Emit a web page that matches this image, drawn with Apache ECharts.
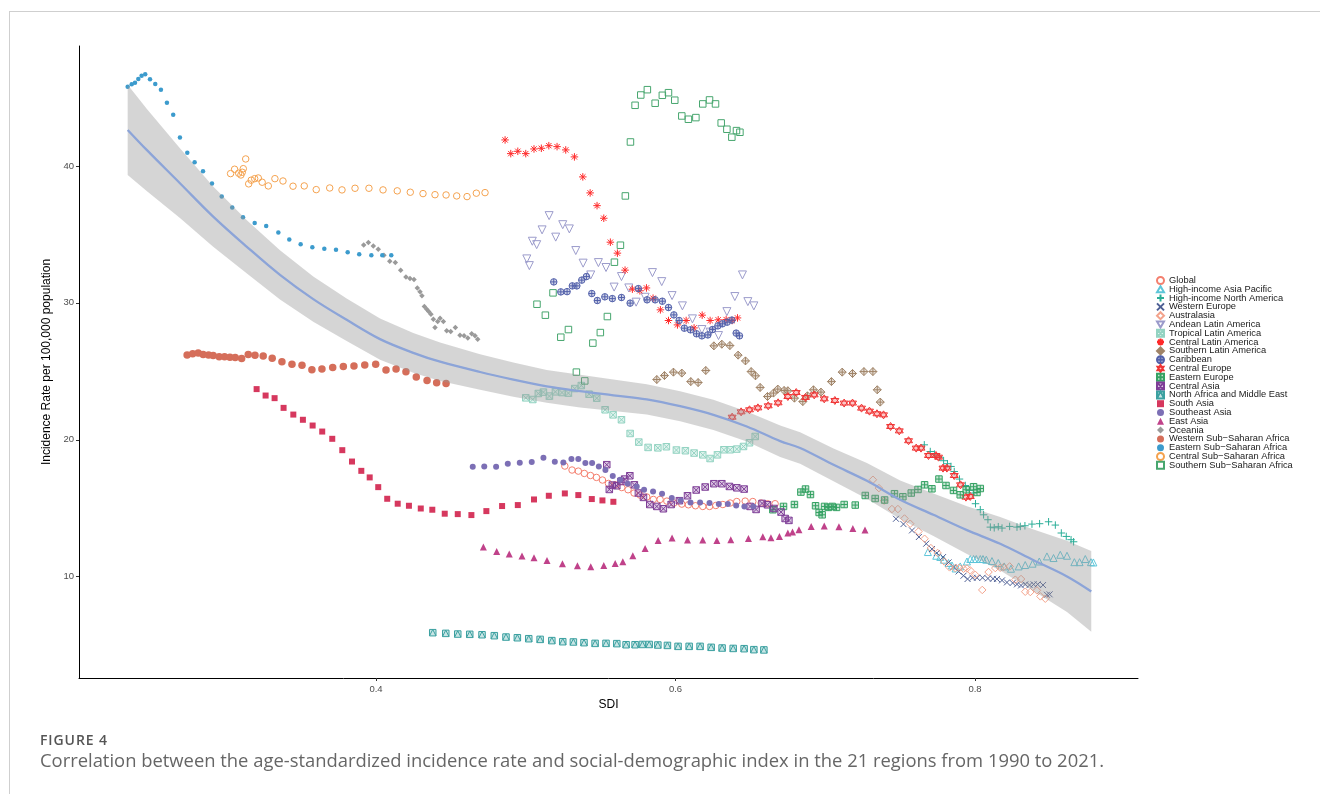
<!DOCTYPE html>
<html><head><meta charset="utf-8">
<script src="https://cdn.jsdelivr.net/npm/echarts@6/dist/echarts.min.js"></script>
<style>
html,body{margin:0;padding:0;background:#fff;width:1320px;height:794px;overflow:hidden;}
#card{position:absolute;left:9px;top:11px;width:1400px;height:900px;border-left:1px solid #cfcfcf;border-top:1px solid #cfcfcf;}
#chart{position:absolute;left:0;top:0;width:1320px;height:794px;}
#fig{position:absolute;left:40px;top:730px;font:600 14px 'Open Sans';color:#555;letter-spacing:0.9px;}
#cap{position:absolute;left:40px;top:747px;font:18.4px 'Open Sans';color:#666;white-space:nowrap;}
</style></head>
<body>
<div id="card"></div>
<div id="chart"></div>
<div id="fig">FIGURE 4</div>
<div id="cap">Correlation between the age-standardized incidence rate and social-demographic index in the 21 regions from 1990 to 2021.</div>
<script>
// ---------------- data ----------------
const sdiGlobal = [0.5261,0.5309,0.5351,0.5391,0.5432,0.5472,0.5512,0.5552,0.5597,0.5641,0.5683,0.5723,0.5764,0.5808,0.5852,0.5897,0.5942,0.5989,0.6042,0.6086,0.6133,0.6182,0.6227,0.6269,0.6316,0.6365,0.6409,0.6465,0.6516,0.6572,0.6614,0.6665];
const rateGlobal = [18.08,17.79,17.71,17.54,17.39,17.25,17.06,16.81,16.71,16.51,16.35,16.11,15.96,15.82,15.64,15.64,15.52,15.38,15.30,15.25,15.18,15.13,15.13,15.20,15.27,15.38,15.49,15.52,15.49,15.38,15.33,15.33];
const sdiHIAP = [0.7685,0.7741,0.7768,0.7792,0.7823,0.7846,0.7870,0.7901,0.7946,0.7968,0.7990,0.8008,0.8035,0.8053,0.8075,0.8113,0.8155,0.8195,0.8240,0.8291,0.8335,0.8384,0.8429,0.8480,0.8524,0.8569,0.8614,0.8663,0.8698,0.8736,0.8774,0.8790];
const rateHIAP = [11.80,11.53,11.44,11.24,11.00,10.82,10.60,10.75,11.11,11.29,11.29,11.29,11.29,11.29,11.24,11.14,11.00,10.75,10.58,10.75,10.85,10.95,11.11,11.48,11.36,11.60,11.53,11.06,11.06,11.29,11.06,11.04];
const sdiHINA = [0.7661,0.7701,0.7729,0.7763,0.7790,0.7816,0.7839,0.7861,0.7896,0.7935,0.7961,0.7988,0.8003,0.8035,0.8057,0.8086,0.8102,0.8128,0.8155,0.8180,0.8231,0.8280,0.8302,0.8333,0.8380,0.8431,0.8491,0.8536,0.8576,0.8609,0.8641,0.8658];
const rateHINA = [19.63,19.14,18.95,18.73,18.47,18.25,18.05,17.68,17.13,16.66,16.30,16.11,15.33,14.89,14.52,14.16,13.62,13.57,13.65,13.55,13.67,13.62,13.67,13.72,13.84,13.87,14.01,13.77,13.19,12.94,12.70,12.55];
const sdiWE = [0.7472,0.7522,0.7579,0.7625,0.7674,0.7712,0.7745,0.7786,0.7823,0.7856,0.7890,0.7923,0.7950,0.7983,0.8013,0.8050,0.8086,0.8120,0.8146,0.8180,0.8213,0.8251,0.8280,0.8307,0.8335,0.8364,0.8391,0.8418,0.8454,0.8480,0.8498];
const rateWE = [14.23,13.84,13.38,12.90,12.41,12.02,11.73,11.43,11.04,10.71,10.38,10.07,9.83,9.92,9.92,9.92,9.87,9.85,9.83,9.73,9.58,9.54,9.44,9.36,9.44,9.39,9.44,9.44,9.39,8.68,8.71];
const sdiAUS = [0.7318,0.7358,0.7393,0.7445,0.7485,0.7529,0.7567,0.7622,0.7663,0.7705,0.7750,0.7794,0.7830,0.7868,0.7894,0.7923,0.7946,0.7968,0.8001,0.8048,0.8090,0.8135,0.8168,0.8190,0.8231,0.8269,0.8307,0.8335,0.8369,0.8413,0.8436,0.8469];
const rateAUS = [17.08,16.47,15.55,14.94,14.94,14.25,13.87,13.30,12.77,12.09,11.73,11.11,10.68,10.63,10.65,10.58,10.60,10.46,10.14,9.03,10.34,10.63,10.65,10.70,10.75,9.78,9.83,8.90,8.88,9.00,8.56,8.39];
const sdiAND = [0.5007,0.5024,0.5044,0.5073,0.5109,0.5156,0.5200,0.5247,0.5291,0.5334,0.5383,0.5434,0.5485,0.5536,0.5590,0.5639,0.5688,0.5737,0.5797,0.5846,0.5908,0.5977,0.6046,0.6113,0.6176,0.6231,0.6287,0.6343,0.6396,0.6447,0.6483,0.6523];
const rateAND = [33.21,32.72,34.50,34.25,35.33,36.37,34.80,35.71,35.40,33.82,32.90,32.04,32.94,32.58,31.15,31.92,31.09,30.05,30.41,32.21,31.55,30.53,29.78,28.83,28.05,27.86,27.61,29.36,30.46,32.04,30.09,29.78];
const sdiTLA = [0.5000,0.5047,0.5084,0.5118,0.5158,0.5198,0.5242,0.5285,0.5327,0.5371,0.5423,0.5474,0.5530,0.5583,0.5639,0.5697,0.5755,0.5817,0.5882,0.5939,0.6006,0.6066,0.6124,0.6182,0.6231,0.6280,0.6323,0.6365,0.6409,0.6454,0.6494,0.6532];
const rateTLA = [23.06,22.94,23.38,23.48,23.19,23.50,23.45,23.41,23.74,23.96,23.33,23.04,22.19,21.82,21.46,20.46,19.83,19.44,19.41,19.49,19.25,19.20,19.03,18.90,18.63,18.90,19.27,19.27,19.32,19.51,19.78,20.24];
const sdiCLA = [0.4862,0.4900,0.4947,0.5000,0.5055,0.5104,0.5154,0.5209,0.5267,0.5325,0.5381,0.5430,0.5476,0.5521,0.5565,0.5612,0.5663,0.5712,0.5762,0.5806,0.5850,0.5899,0.5953,0.6013,0.6071,0.6124,0.6178,0.6231,0.6285,0.6338,0.6378,0.6414];
const rateCLA = [41.90,40.90,41.07,40.90,41.24,41.29,41.48,41.41,41.17,40.66,39.20,38.03,37.10,36.18,34.43,33.63,32.39,31.00,30.88,31.09,30.34,29.49,28.71,28.39,28.71,28.17,29.10,28.71,28.76,28.78,28.71,28.90];
const sdiSLA = [0.5875,0.5926,0.5986,0.6042,0.6102,0.6151,0.6202,0.6256,0.6309,0.6363,0.6418,0.6467,0.6505,0.6534,0.6565,0.6614,0.6654,0.6683,0.6725,0.6750,0.6794,0.6850,0.6881,0.6921,0.6971,0.7041,0.7113,0.7182,0.7258,0.7318,0.7347,0.7367];
const rateSLA = [24.40,24.69,24.94,24.87,24.25,24.18,25.06,26.86,26.98,26.88,26.18,25.76,24.98,24.67,23.82,23.16,23.41,23.70,23.60,23.58,23.04,22.79,23.21,23.65,23.48,24.25,24.94,24.84,24.98,24.98,23.65,22.75];
const sdiCAR = [0.5187,0.5234,0.5276,0.5311,0.5341,0.5374,0.5405,0.5441,0.5478,0.5528,0.5578,0.5639,0.5697,0.5752,0.5810,0.5864,0.5912,0.5953,0.5989,0.6024,0.6059,0.6100,0.6140,0.6176,0.6216,0.6247,0.6283,0.6313,0.6345,0.6376,0.6405,0.6427];
const rateCAR = [31.53,30.80,30.82,31.24,31.24,31.66,31.92,30.68,30.17,30.44,30.31,30.39,29.98,31.04,30.22,30.22,30.12,29.66,29.12,28.71,28.15,28.03,27.74,27.59,27.66,28.05,28.32,28.47,28.59,28.74,27.79,27.59];
const sdiCEU = [0.6378,0.6438,0.6494,0.6550,0.6619,0.6685,0.6750,0.6806,0.6868,0.6926,0.6993,0.7064,0.7126,0.7182,0.7242,0.7295,0.7345,0.7389,0.7436,0.7494,0.7556,0.7607,0.7639,0.7689,0.7739,0.7756,0.7786,0.7812,0.7861,0.7903,0.7939,0.7968];
const rateCEU = [21.65,22.04,22.19,22.33,22.48,22.70,23.16,23.45,23.09,23.28,22.99,22.87,22.68,22.68,22.31,22.09,21.90,21.82,20.97,20.65,19.93,19.39,19.39,18.85,18.85,18.73,17.93,17.93,17.39,16.71,15.81,15.86];
const sdiEEU = [0.6650,0.6721,0.6794,0.6837,0.6868,0.6901,0.6935,0.6959,0.6979,0.6995,0.7021,0.7046,0.7075,0.7126,0.7200,0.7267,0.7333,0.7396,0.7462,0.7518,0.7574,0.7619,0.7663,0.7712,0.7759,0.7806,0.7856,0.7901,0.7941,0.7990,0.8013,0.8035];
const rateEEU = [14.89,15.13,15.27,16.18,16.40,16.00,15.18,14.69,14.52,15.13,15.06,15.13,15.06,15.27,15.23,15.93,15.71,15.60,16.06,15.84,16.11,16.37,16.71,16.42,17.13,16.66,16.30,15.98,16.35,16.57,16.15,16.44];
const sdiCAS = [0.5541,0.5558,0.5578,0.5608,0.5635,0.5661,0.5695,0.5725,0.5752,0.5786,0.5828,0.5875,0.5919,0.5971,0.6026,0.6080,0.6138,0.6198,0.6256,0.6309,0.6360,0.6409,0.6458,0.6498,0.6538,0.6578,0.6614,0.6657,0.6705,0.6732,0.6757];
const rateCAS = [18.18,16.37,16.69,16.64,16.95,17.13,17.37,16.71,16.11,15.79,15.27,15.13,14.96,15.27,15.55,15.91,16.33,16.55,16.79,16.79,16.59,16.49,16.40,15.13,14.91,15.35,15.25,14.98,14.72,14.25,14.11];
const sdiNAME = [0.4379,0.4466,0.4546,0.4626,0.4708,0.4790,0.4868,0.4944,0.5020,0.5096,0.5174,0.5247,0.5318,0.5389,0.5463,0.5536,0.5608,0.5670,0.5730,0.5779,0.5824,0.5882,0.5946,0.6017,0.6091,0.6164,0.6238,0.6311,0.6385,0.6458,0.6523,0.6590];
const rateNAME = [5.91,5.86,5.81,5.79,5.76,5.69,5.59,5.54,5.47,5.42,5.33,5.25,5.23,5.18,5.13,5.13,5.11,5.03,5.03,5.05,5.05,5.01,4.98,4.91,4.91,4.91,4.84,4.79,4.76,4.74,4.67,4.65];
const sdiSAS = [0.3203,0.3263,0.3323,0.3383,0.3448,0.3512,0.3577,0.3641,0.3708,0.3775,0.3840,0.3902,0.3958,0.4015,0.4075,0.4145,0.4220,0.4299,0.4376,0.4459,0.4546,0.4637,0.4737,0.4842,0.4947,0.5055,0.5154,0.5261,0.5351,0.5441,0.5512,0.5585];
const rateSAS = [23.70,23.23,23.04,22.33,21.84,21.46,21.04,20.60,20.07,19.24,18.41,17.73,17.25,16.54,15.69,15.33,15.18,14.98,14.89,14.60,14.57,14.50,14.79,15.16,15.23,15.64,15.91,16.08,15.96,15.67,15.57,15.47];
const sdiSEA = [0.4646,0.4723,0.4802,0.4880,0.4960,0.5040,0.5118,0.5194,0.5251,0.5305,0.5351,0.5398,0.5443,0.5488,0.5532,0.5581,0.5630,0.5681,0.5741,0.5790,0.5850,0.5910,0.5975,0.6035,0.6100,0.6164,0.6227,0.6289,0.6349,0.6405,0.6460,0.6520];
const rateSEA = [18.03,18.05,18.03,18.25,18.32,18.37,18.68,18.39,18.34,18.59,18.59,18.30,18.30,18.05,17.79,17.35,17.08,16.79,16.59,16.35,16.22,16.06,15.74,15.57,15.42,15.42,15.38,15.30,15.30,15.20,15.13,15.13];
const sdiEAS = [0.4717,0.4806,0.4890,0.4975,0.5055,0.5142,0.5245,0.5345,0.5434,0.5521,0.5597,0.5648,0.5715,0.5797,0.5884,0.5977,0.6080,0.6182,0.6276,0.6369,0.6487,0.6583,0.6637,0.6694,0.6750,0.6781,0.6824,0.6906,0.6993,0.7091,0.7184,0.7265];
const rateEAS = [12.17,11.84,11.65,11.51,11.38,11.19,10.95,10.80,10.73,10.82,10.97,11.09,11.53,12.06,12.65,12.82,12.68,12.68,12.65,12.70,12.79,12.92,12.84,12.94,13.19,13.26,13.43,13.67,13.70,13.65,13.52,13.41];
const sdiOCE = [0.3918,0.3949,0.3982,0.4015,0.4053,0.4092,0.4129,0.4165,0.4200,0.4227,0.4254,0.4276,0.4294,0.4307,0.4323,0.4339,0.4352,0.4367,0.4383,0.4412,0.4428,0.4450,0.4394,0.4472,0.4499,0.4530,0.4561,0.4588,0.4613,0.4639,0.4661,0.4679];
const rateOCE = [34.23,34.40,34.16,33.92,33.48,33.04,32.94,32.39,31.88,31.77,31.70,31.09,30.82,30.51,29.73,29.54,29.36,29.17,28.81,28.63,28.88,28.63,28.20,27.96,27.90,28.20,27.64,27.59,27.44,27.74,27.59,27.35];
const sdiWSSA = [0.2739,0.2776,0.2813,0.2846,0.2882,0.2913,0.2953,0.2989,0.3025,0.3060,0.3103,0.3147,0.3192,0.3247,0.3307,0.3372,0.3439,0.3506,0.3572,0.3639,0.3711,0.3782,0.3853,0.3925,0.3998,0.4067,0.4134,0.4200,0.4269,0.4341,0.4405,0.4468];
const rateWSSA = [26.20,26.28,26.33,26.22,26.20,26.15,26.06,26.06,26.03,26.00,25.93,26.22,26.18,26.11,25.96,25.69,25.52,25.45,25.11,25.16,25.28,25.35,25.38,25.47,25.52,25.09,25.16,24.96,24.58,24.33,24.16,24.11];
const sdiESSA = [0.2342,0.2369,0.2391,0.2413,0.2435,0.2459,0.2491,0.2526,0.2564,0.2604,0.2646,0.2691,0.2740,0.2789,0.2845,0.2905,0.2970,0.3040,0.3112,0.3190,0.3267,0.3348,0.3421,0.3497,0.3575,0.3655,0.3733,0.3811,0.3888,0.3969,0.4042,0.4102];
const rateESSA = [45.79,45.96,46.08,46.35,46.59,46.69,46.33,45.99,45.57,44.62,43.74,42.07,40.97,40.27,39.61,38.71,37.76,36.96,36.26,35.84,35.62,35.13,34.62,34.28,34.07,33.96,33.87,33.70,33.55,33.48,33.48,33.48];
const sdiCSSA = [0.3029,0.3056,0.3083,0.3098,0.3107,0.3114,0.3130,0.3150,0.3167,0.3190,0.3214,0.3240,0.3281,0.3325,0.3379,0.3446,0.3521,0.3601,0.3691,0.3773,0.3860,0.3953,0.4047,0.4142,0.4229,0.4314,0.4394,0.4468,0.4539,0.4608,0.4670,0.4728];
const rateCSSA = [39.44,39.76,39.47,39.34,39.54,39.80,40.51,38.69,38.96,39.07,39.12,38.81,38.54,39.07,38.90,38.52,38.54,38.27,38.39,38.25,38.37,38.37,38.25,38.18,38.08,37.98,37.90,37.88,37.81,37.76,38.01,38.05];
const sdiSSSA = [0.5075,0.5131,0.5182,0.5234,0.5285,0.5338,0.5394,0.5448,0.5498,0.5545,0.5592,0.5632,0.5665,0.5699,0.5730,0.5768,0.5812,0.5864,0.5912,0.5953,0.5995,0.6042,0.6086,0.6136,0.6182,0.6227,0.6267,0.6305,0.6343,0.6376,0.6407,0.6430];
const rateSSSA = [29.90,29.10,30.73,27.49,28.05,24.94,24.30,27.06,27.83,29.00,32.97,34.21,37.81,41.75,44.43,45.18,45.57,44.58,45.16,45.35,44.80,43.65,43.41,43.53,44.53,44.82,44.53,43.14,42.68,42.10,42.58,42.46];

// smoothed fit (loess) with confidence band
const fitSdi = [0.2342,0.2469,0.2691,0.2913,0.3136,0.3359,0.3581,0.3804,0.4027,0.4249,0.4428,0.4695,0.4917,0.5140,0.5363,0.5585,0.5808,0.6031,0.6253,0.6476,0.6699,0.6832,0.7055,0.7278,0.7500,0.7722,0.7946,0.8168,0.8391,0.8614,0.8776];
const fitRate = [42.63,41.17,38.74,36.30,34.11,32.04,30.27,28.76,27.35,26.35,25.70,24.95,24.40,23.90,23.55,23.25,22.95,22.45,21.82,20.97,19.90,19.40,18.17,17.00,15.62,14.52,13.40,12.40,11.20,10.02,8.92];
const fitLower = [39.33,38.17,36.19,34.10,32.16,30.24,28.62,27.21,25.85,24.90,24.30,23.65,23.15,22.70,22.35,22.10,21.85,21.35,20.72,19.87,18.75,18.25,16.97,15.70,14.22,12.97,11.65,10.45,8.95,7.42,5.97];
const fitUpper = [45.93,44.17,41.29,38.50,36.06,33.84,31.92,30.31,28.85,27.80,27.10,26.25,25.65,25.10,24.75,24.40,24.05,23.55,22.92,22.07,21.05,20.55,19.37,18.30,17.02,16.07,15.15,14.35,13.45,12.62,11.87];

const regionNames = ['Global','High-income Asia Pacific','High-income North America','Western Europe','Australasia','Andean Latin America','Tropical Latin America','Central Latin America','Southern Latin America','Caribbean','Central Europe','Eastern Europe','Central Asia','North Africa and Middle East','South Asia','Southeast Asia','East Asia','Oceania','Western Sub\u2212Saharan Africa','Eastern Sub\u2212Saharan Africa','Central Sub\u2212Saharan Africa','Southern Sub\u2212Saharan Africa'];
const xTicks = [0.4,0.6,0.8];
const yTicks = [10,20,30,40];

// --------------- styles ----------------
const P = {
  plus:'path://M5,0L5,10M0,5L10,5',
  cross:'path://M0,0L10,10M10,0L0,10',
  triUp:'path://M5,0L10,8.66L0,8.66Z',
  triDown:'path://M0,0L10,0L5,8.66Z',
  diamond:'path://M5,0L10,5L5,10L0,5Z',
  sqX:'path://M0,0L10,0L10,10L0,10ZM0,0L10,10M10,0L0,10',
  aster:'path://M5,0L5,10M0,5L10,5M1.46,1.46L8.54,8.54M8.54,1.46L1.46,8.54',
  diaPlus:'path://M5,0L10,5L5,10L0,5ZM5,0L5,10M0,5L10,5',
  circPlus:'path://M0,5A5,5,0,1,1,10,5A5,5,0,1,1,0,5ZM5,0L5,10M0,5L10,5',
  star:'path://M5,0L9.33,7.5L0.67,7.5ZM5,10L0.67,2.5L9.33,2.5Z',
  sqPlus:'path://M0,0L10,0L10,10L0,10ZM5,0L5,10M0,5L10,5',
  sqTri:'path://M0,0L10,0L10,10L0,10ZM0,10L5,0L10,10',
  square:'path://M0,0L10,0L10,10L0,10Z'
};
// kind: o = open stroke, c = composite stroke with light fill, f = filled
const styles = [
  {x:sdiGlobal, y:rateGlobal, sym:'circle', size:6.5, col:'#F47F6E', kind:'o'},
  {x:sdiHIAP, y:rateHIAP, sym:P.triUp, size:7, col:'#5EC6D9', kind:'o'},
  {x:sdiHINA, y:rateHINA, sym:P.plus, size:7.5, col:'#2BAE98', kind:'o'},
  {x:sdiWE, y:rateWE, sym:P.cross, size:6, col:'#4D5E94', kind:'o'},
  {x:sdiAUS, y:rateAUS, sym:P.diamond, size:7.5, col:'#F3A38C', kind:'o'},
  {x:sdiAND, y:rateAND, sym:P.triDown, size:8, col:'#9B9BCB', kind:'o'},
  {x:sdiTLA, y:rateTLA, sym:P.sqX, size:6.5, col:'#93D3C2', kind:'c'},
  {x:sdiCLA, y:rateCLA, sym:P.aster, size:7.5, col:'#FF2A2A', kind:'o'},
  {x:sdiSLA, y:rateSLA, sym:P.diaPlus, size:8, col:'#A08468', kind:'c'},
  {x:sdiCAR, y:rateCAR, sym:P.circPlus, size:6.5, col:'#5260AA', kind:'c'},
  {x:sdiCEU, y:rateCEU, sym:P.star, size:8, col:'#F03535', kind:'c'},
  {x:sdiEEU, y:rateEEU, sym:P.sqPlus, size:6.5, col:'#35A263', kind:'c'},
  {x:sdiCAS, y:rateCAS, sym:P.sqX, size:6.5, col:'#7E3E97', kind:'c'},
  {x:sdiNAME, y:rateNAME, sym:P.sqTri, size:6.5, col:'#3BA0A0', kind:'c'},
  {x:sdiSAS, y:rateSAS, sym:'rect', size:6, col:'#D6385E', kind:'f'},
  {x:sdiSEA, y:rateSEA, sym:'circle', size:6, col:'#7C6FB5', kind:'f'},
  {x:sdiEAS, y:rateEAS, sym:'triangle', size:7, col:'#C0428A', kind:'f'},
  {x:sdiOCE, y:rateOCE, sym:'diamond', size:5.5, col:'#9A9A9A', kind:'f'},
  {x:sdiWSSA, y:rateWSSA, sym:'circle', size:7.5, col:'#D56E5A', kind:'f'},
  {x:sdiESSA, y:rateESSA, sym:'circle', size:4.5, col:'#3C9BCD', kind:'f'},
  {x:sdiCSSA, y:rateCSSA, sym:'circle', size:6.5, col:'#F4A24F', kind:'o'},
  {x:sdiSSSA, y:rateSSSA, sym:P.square, size:6.5, col:'#47A66E', kind:'o'}
];
function hexA(h,a){const n=parseInt(h.slice(1),16);return 'rgba('+(n>>16&255)+','+(n>>8&255)+','+(n&255)+','+a+')';}

const series = styles.map((s,i)=>{
  let itemStyle;
  if (s.kind==='f') itemStyle = {color:s.col, opacity:1};
  else if (s.kind==='o') itemStyle = {color:'rgba(0,0,0,0)', borderColor:s.col, borderWidth:1, opacity:1};
  else itemStyle = {color:hexA(s.col,0.28), borderColor:s.col, borderWidth:1, opacity:1};
  return {
    type:'scatter', name:regionNames[i], symbol:s.sym, symbolSize:s.size,
    data:s.x.map((v,k)=>[v,s.y[k]]), itemStyle, emphasis:{disabled:true}, z:2
  };
});
series.push({
  type:'custom', name:'ci', silent:true, z:5,
  data:fitSdi.map((v,k)=>[v,fitLower[k],fitUpper[k]]),
  encode:{x:0,y:[1,2]},
  renderItem:function(params, api){
    if (params.dataIndex!==0) return null;
    const pts=[];
    for (let k=0;k<fitSdi.length;k++) pts.push(api.coord([fitSdi[k],fitUpper[k]]));
    for (let k=fitSdi.length-1;k>=0;k--) pts.push(api.coord([fitSdi[k],fitLower[k]]));
    return {type:'polygon', shape:{points:pts}, style:{fill:'rgba(150,150,150,0.4)'}};
  }
});
series.push({
  type:'line', name:'fit', silent:true, z:6, smooth:0.35, showSymbol:false,
  data:fitSdi.map((v,k)=>[v,fitRate[k]]),
  lineStyle:{color:'#8CA4D8', width:2.3}, emphasis:{disabled:true}
});

const chart = echarts.init(document.getElementById('chart'), null, {renderer:'canvas'});
chart.setOption({
  animation:false,
  backgroundColor:'transparent',
  grid:{left:79, right:182, top:46, bottom:116, containLabel:false},
  xAxis:{
    type:'value', min:0.2017, max:0.9088,
    name:'SDI', nameLocation:'middle', nameGap:19,
    nameTextStyle:{fontSize:12, color:'#000', fontFamily:'Liberation Sans'},
    axisLine:{show:true, onZero:false, lineStyle:{color:'#000', width:1}},
    axisTick:{show:true, length:3, customValues:xTicks, lineStyle:{color:'#333'}},
    axisLabel:{customValues:xTicks, fontSize:9.5, color:'#4d4d4d', margin:6, fontFamily:'Liberation Sans', formatter:v=>v.toFixed(1)},
    splitLine:{show:false}
  },
  yAxis:{
    type:'value', min:2.6, max:48.76,
    name:'Incidence Rate per 100,000 population', nameLocation:'middle', nameGap:21,
    nameTextStyle:{fontSize:12, color:'#000', fontFamily:'Liberation Sans'},
    axisLine:{show:true, onZero:false, lineStyle:{color:'#000', width:1}},
    axisTick:{show:true, length:3, customValues:yTicks, lineStyle:{color:'#333'}},
    axisLabel:{customValues:yTicks, fontSize:9.5, color:'#4d4d4d', margin:5, fontFamily:'Liberation Sans'},
    splitLine:{show:false}
  },
  legend:{
    orient:'vertical', left:1156, top:276, padding:0,
    itemWidth:7, itemHeight:7, itemGap:-0.2,
    textStyle:{fontSize:9.3, lineHeight:7.8, color:'#1a1a1a', fontFamily:'Liberation Sans', padding:0},
    data:regionNames, selectedMode:false
  },
  series:series
});
</script>
</body></html>
